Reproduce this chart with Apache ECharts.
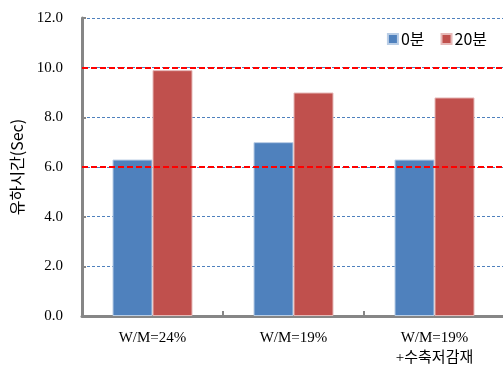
<!DOCTYPE html>
<html>
<head>
<meta charset="utf-8">
<script src="https://cdn.jsdelivr.net/npm/echarts@6/dist/echarts.min.js"></script>
<style>
html, body { margin: 0; padding: 0; background: #fff; }
#chart { width: 503px; height: 371px; }
</style>
</head>
<body>
<div id="chart"></div>
<script>
// 데이터
var categories = ['W/M=24%', 'W/M=19%', 'W/M=19%\n+수축저감재'];
var seriesNames = ['0분', '20분'];
var values0 = [6.3, 7.0, 6.3];
var values20 = [9.9, 9.0, 8.8];
var limitLines = [10, 6];

var serif = "'Liberation Serif', 'Times New Roman', 'Noto Sans CJK KR', serif";
var sans = "'Noto Sans CJK KR', 'Noto Sans', sans-serif";

var myChart = echarts.init(document.getElementById('chart'), null, {renderer: 'canvas'});

option = {
    animation: false,
    grid: {
        left: 82,
        right: -2,
        top: 18,
        bottom: 55,
        outerBoundsMode: 'none'
    },
    legend: {
        data: seriesNames,
        right: 11,
        top: 26,
        itemWidth: 10,
        itemHeight: 10,
        itemGap: 16,
        icon: 'rect',
        textStyle: {
            fontFamily: sans,
            fontSize: 16,
            color: '#000',
            padding: [0, 0, 0, -2]
        }
    },
    xAxis: {
        type: 'category',
        data: categories,
        axisLine: {lineStyle: {color: '#868686', width: 3}},
        axisTick: {
            show: true,
            inside: true,
            length: 5,
            lineStyle: {color: '#868686', width: 2}
        },
        axisLabel: {
            margin: 12,
            fontFamily: serif,
            fontSize: 15,
            color: '#000',
            lineHeight: 20
        }
    },
    yAxis: {
        type: 'value',
        min: 0,
        max: 12,
        interval: 2,
        name: '유하시간(Sec)',
        nameLocation: 'middle',
        nameGap: 57,
        nameTextStyle: {
            fontFamily: sans,
            fontSize: 16,
            color: '#000'
        },
        axisLine: {show: true, lineStyle: {color: '#868686', width: 3}},
        axisTick: {
            show: true,
            inside: true,
            length: 4,
            lineStyle: {color: '#868686', width: 2}
        },
        axisLabel: {
            margin: 19,
            fontFamily: serif,
            fontSize: 15,
            color: '#000',
            formatter: function(v) { return v.toFixed(1); }
        },
        splitLine: {
            lineStyle: {color: '#4F81BD', type: [3, 2], width: 1}
        }
    },
    series: [
        {
            name: seriesNames[0],
            type: 'bar',
            data: values0,
            barWidth: 40,
            barGap: '0%',
            itemStyle: {color: '#4F81BD', borderColor: '#B9CDE5', borderWidth: 1},
            markLine: {
                symbol: 'none',
                silent: true,
                label: {show: false},
                lineStyle: {color: '#FF0000', type: [6, 3], width: 2},
                data: limitLines.map(function(v) { return {yAxis: v}; })
            }
        },
        {
            name: seriesNames[1],
            type: 'bar',
            data: values20,
            barWidth: 40,
            itemStyle: {color: '#C0504D', borderColor: '#E6B9B8', borderWidth: 1}
        }
    ]
};

myChart.setOption(option);
</script>
</body>
</html>
